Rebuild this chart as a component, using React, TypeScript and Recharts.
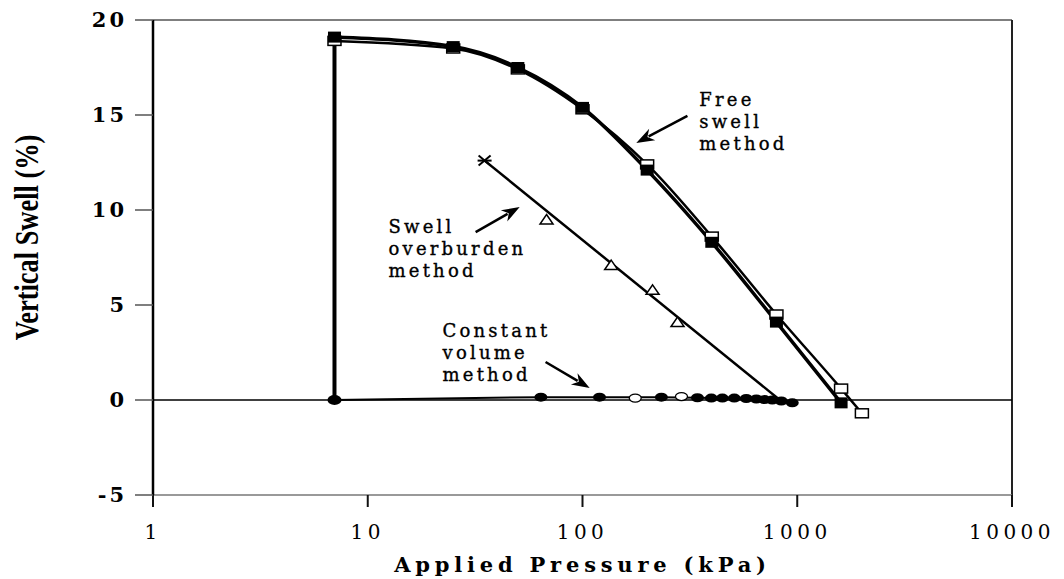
import {
  ComposedChart,
  Line,
  Scatter,
  XAxis,
  YAxis,
  ReferenceLine,
  ReferenceDot,
  Label,
} from 'recharts';

const pressureTicks = [1, 10, 100, 1000, 10000];
const swellTicks = [-5, 0, 5, 10, 15, 20];

// free swell test, filled squares
const freeSwellPressure = [7, 25, 50, 100, 200, 400, 800, 1600];
const freeSwellValues = [19.1, 18.6, 17.5, 15.4, 12.1, 8.3, 4.1, -0.15];

// free swell test, open squares
const freeSwell2Pressure = [7, 25, 50, 100, 200, 400, 800, 1600, 2000];
const freeSwell2Values = [18.9, 18.5, 17.4, 15.3, 12.4, 8.6, 4.5, 0.6, -0.7];

// swelling under the seating load before unloading
const seatingPressure = [7, 7];
const seatingValues = [0, 19.1];

// swell overburden test
const overburdenPressure = [68, 136, 212, 277];
const overburdenValues = [9.5, 7.1, 5.8, 4.1];
const overburdenFitPressure = [35, 830];
const overburdenFitValues = [12.6, 0];

// constant volume test
const constVolPressure = [7, 64, 120, 233, 343, 398, 448, 509, 579, 645, 703, 765, 843, 948];
const constVolValues = [0, 0.15, 0.15, 0.15, 0.12, 0.1, 0.1, 0.1, 0.08, 0.05, 0.02, 0, -0.05, -0.15];
const constVolOpenPressure = [176, 289];
const constVolOpenValues = [0.1, 0.18];

// callouts
const noteText = [
  ['Free', 'swell', 'method'],
  ['Swell', 'overburden', 'method'],
  ['Constant', 'volume', 'method'],
];
const noteAt = [
  [350, 15.5],
  [12.5, 8.8],
  [22.3, 3.3],
];
const arrowFrom = [
  [308, 14.95],
  [31.8, 8.84],
  [67.3, 2.0],
];
const arrowTo = [
  [178, 13.53],
  [51, 10.16],
  [108, 0.63],
];

const toPoints = (p: number[], v: number[]) =>
  p.map((x, i) => ({ p: x, v: v[i] }));

const SERIF = "'DejaVu Serif', serif";

type DotProps = { cx?: number; cy?: number; index?: number };

const filledSquare = ({ cx = 0, cy = 0, index }: DotProps) => (
  <rect key={`fs-${index}`} x={cx - 6.5} y={cy - 5.5} width={13} height={11} fill="#000" />
);

const openSquare = ({ cx = 0, cy = 0, index }: DotProps) => (
  <rect
    key={`os-${index}`}
    x={cx - 6.5}
    y={cy - 4.5}
    width={13}
    height={9}
    fill="#fff"
    stroke="#000"
    strokeWidth={1.5}
  />
);

const filledCircle = ({ cx = 0, cy = 0, index }: DotProps) =>
  index === 0 ? (
    <ellipse key={`fc-${index}`} cx={cx} cy={cy} rx={7} ry={5} fill="#000" />
  ) : (
    <ellipse key={`fc-${index}`} cx={cx} cy={cy} rx={6.5} ry={4.5} fill="#000" />
  );

const openCircle = ({ cx = 0, cy = 0 }: DotProps) => (
  <ellipse cx={cx} cy={cy} rx={6} ry={4} fill="#fff" stroke="#000" strokeWidth={1.3} />
);

const triangle = ({ cx = 0, cy = 0 }: DotProps) => (
  <polygon
    points={`${cx},${cy - 5} ${cx + 6.5},${cy + 4.5} ${cx - 6.5},${cy + 4.5}`}
    fill="#fff"
    stroke="#000"
    strokeWidth={1.5}
  />
);

const asteriskStart = ({ cx = 0, cy = 0, index }: DotProps) =>
  index === 0 ? (
    <g key={`as-${index}`} stroke="#000" strokeWidth={2}>
      <line x1={cx - 6} y1={cy - 5} x2={cx + 6} y2={cy + 5} />
      <line x1={cx - 6} y1={cy + 5} x2={cx + 6} y2={cy - 5} />
      <line x1={cx - 7} y1={cy} x2={cx + 7} y2={cy} />
    </g>
  ) : (
    <g key={`as-${index}`} />
  );

type SegProps = { x1?: number; y1?: number; x2?: number; y2?: number };

function Arrow({ x1 = 0, y1 = 0, x2 = 0, y2 = 0 }: SegProps) {
  const ang = Math.atan2(y2 - y1, x2 - x1);
  const len = 18;
  const half = 6.5;
  const bx = x2 - len * Math.cos(ang);
  const by = y2 - len * Math.sin(ang);
  const px = -Math.sin(ang) * half;
  const py = Math.cos(ang) * half;
  return (
    <g>
      <line x1={x1} y1={y1} x2={bx + 4 * Math.cos(ang)} y2={by + 4 * Math.sin(ang)} stroke="#000" strokeWidth={2.5} />
      <polygon
        points={`${x2},${y2} ${bx + px},${by + py} ${bx + len * 0.3 * Math.cos(ang)},${by + len * 0.3 * Math.sin(ang)} ${bx - px},${by - py}`}
        fill="#000"
      />
    </g>
  );
}

// one <text> per line so the callout lines stay separate elements
const noteShape = (lines: string[]) =>
  function Note({ cx = 0, cy = 0 }: { cx?: number; cy?: number }) {
    return (
      <g>
        {lines.map((t, i) => (
          <text
            key={t + i}
            x={cx}
            y={cy + i * 22}
            fontFamily={SERIF}
            fontSize={18}
            letterSpacing={3.2}
            stroke="#000"
            strokeWidth={0.35}
            fill="#000"
          >
            {t}
          </text>
        ))}
      </g>
    );
  };

type ViewBox = { x?: number; y?: number; width?: number; height?: number };

function XTitle({ viewBox }: { viewBox?: ViewBox }) {
  const { x = 0, y = 0, width = 0 } = viewBox || {};
  return (
    <text
      x={x + width / 2}
      y={y + 77}
      textAnchor="middle"
      fontFamily={SERIF}
      fontWeight="bold"
      fontSize={21}
      letterSpacing={4.8}
      fill="#000"
    >
      Applied Pressure (kPa)
    </text>
  );
}

function YTitle({ viewBox }: { viewBox?: ViewBox }) {
  const { y = 0, height = 0 } = viewBox || {};
  const cy = y + height / 2 - 20;
  return (
    <text
      transform={`translate(26, ${cy}) rotate(-90) scale(0.8, 1)`}
      textAnchor="middle"
      dominantBaseline="central"
      fontFamily="'Liberation Serif', serif"
      fontWeight="bold"
      fontSize={33}
      fill="#000"
    >
      Vertical Swell (%)
    </text>
  );
}

export default function App() {
  return (
    <div style={{ position: 'absolute', left: 0, top: 0, background: '#fff' }}>
      <ComposedChart
        width={1064}
        height={579}
        margin={{ top: 20, right: 52, bottom: 0, left: 0 }}
      >
        <XAxis
          type="number"
          dataKey="p"
          scale="log"
          domain={[1, 10000]}
          ticks={pressureTicks}
          allowDataOverflow
          height={84}
          tickSize={12}
          tickMargin={18}
          axisLine={{ stroke: '#777', strokeWidth: 1.5 }}
          tickLine={{ stroke: '#111', strokeWidth: 2 }}
          tick={{ fontFamily: SERIF, fontSize: 20, letterSpacing: 4.5, fill: '#000' }}
        >
          <Label content={<XTitle />} />
        </XAxis>
        <YAxis
          type="number"
          dataKey="v"
          domain={[-5, 20]}
          ticks={swellTicks}
          allowDataOverflow
          width={153}
          tickSize={18}
          tickMargin={8}
          axisLine={{ stroke: '#000', strokeWidth: 2.5 }}
          tickLine={{ stroke: '#555', strokeWidth: 1.5 }}
          tick={{
            fontFamily: SERIF,
            fontSize: 21,
            fontWeight: 'bold',
            letterSpacing: 3,
            fill: '#000',
          }}
        >
          <Label content={<YTitle />} />
        </YAxis>

        <ReferenceLine y={20} stroke="#555" strokeWidth={1.5} />
        <ReferenceLine x={10000} stroke="#222" strokeWidth={2} />
        <ReferenceLine y={0} stroke="#000" strokeWidth={1.5} />

        <Line
          data={toPoints(seatingPressure, seatingValues)}
          dataKey="v"
          type="linear"
          stroke="#000"
          strokeWidth={4}
          dot={false}
          isAnimationActive={false}
        />
        <Line
          data={toPoints(constVolPressure, constVolValues)}
          dataKey="v"
          type="linear"
          stroke="#000"
          strokeWidth={2}
          dot={filledCircle}
          isAnimationActive={false}
        />
        <Scatter
          data={toPoints(constVolOpenPressure, constVolOpenValues)}
          dataKey="v"
          shape={openCircle}
          isAnimationActive={false}
        />
        <Line
          data={toPoints(overburdenFitPressure, overburdenFitValues)}
          dataKey="v"
          type="linear"
          stroke="#000"
          strokeWidth={2.5}
          dot={asteriskStart}
          isAnimationActive={false}
        />
        <Scatter
          data={toPoints(overburdenPressure, overburdenValues)}
          dataKey="v"
          shape={triangle}
          isAnimationActive={false}
        />
        <Line
          data={toPoints(freeSwell2Pressure, freeSwell2Values)}
          dataKey="v"
          type="monotone"
          stroke="#000"
          strokeWidth={2.5}
          dot={openSquare}
          isAnimationActive={false}
        />
        <Line
          data={toPoints(freeSwellPressure, freeSwellValues)}
          dataKey="v"
          type="monotone"
          stroke="#000"
          strokeWidth={3.5}
          dot={filledSquare}
          isAnimationActive={false}
        />

        {noteText.map((lines, i) => (
          <ReferenceDot
            key={`note-${i}`}
            x={noteAt[i][0]}
            y={noteAt[i][1]}
            shape={noteShape(lines)}
          />
        ))}
        {arrowFrom.map((from, i) => (
          <ReferenceLine
            key={`arrow-${i}`}
            segment={[
              { x: from[0], y: from[1] },
              { x: arrowTo[i][0], y: arrowTo[i][1] },
            ]}
            shape={(props: SegProps) => <Arrow {...props} />}
          />
        ))}
      </ComposedChart>
    </div>
  );
}
